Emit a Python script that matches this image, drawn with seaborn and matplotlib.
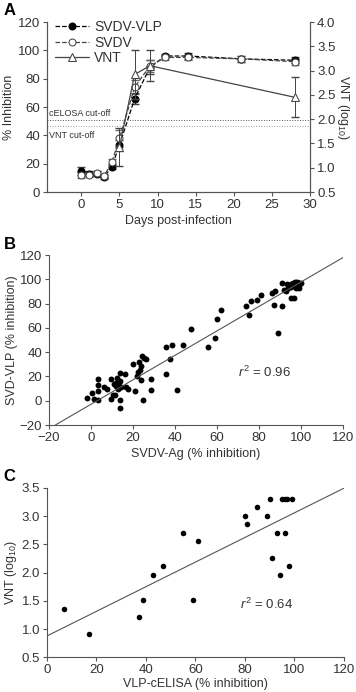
import numpy as np
import pandas as pd
import matplotlib
matplotlib.use("Agg")
import matplotlib.pyplot as plt
import seaborn as sns

# ---- Panel A: time course ----
days = [0, 1, 2, 3, 4, 5, 7, 9, 11, 14, 21, 28]
vlp = [15, 13, 13, 10.5, 18, 33, 66, 88, 96, 96, 94, 93]
vlp_err = [3, 2, 2, 1.5, 2, 4, 4, 5, 1.5, 2, 2, 2]
svdv = [12, 12, 13.5, 11.5, 21, 38, 74, 89, 95, 95, 94, 92]
svdv_err = [2, 1.5, 1.5, 1.5, 2, 6, 5, 4, 1.5, 2, 2, 2]
vnt_days = [5, 7, 9, 28]
vnt = [1.43, 2.92, 3.10, 2.45]
vnt_err = [0.39, 0.50, 0.32, 0.41]
celisa_cutoff = 50.5
vnt_cutoff = 1.85

# ---- Panel B: SVDV-Ag vs SVDV-VLP ----
b_x = [-1.8, 0.5, 1.5, 3.5, 3.5, 3.5, 3.5, 6, 7.5, 9.5, 9.5, 10.5, 11.5, 11.8, 12.3,
       12.6, 13, 13.4, 13.6, 13.6, 13.6, 14, 14.3, 11, 12, 16.3, 16.6, 17.8, 19.8, 21,
       21.8, 22.3, 22.7, 23.4, 23.6, 24, 24.4, 24.8, 25, 26, 28.6, 28.6, 35.5, 35.5,
       37.8, 38.5, 40.8, 43.8, 47.8, 55.8, 59, 59.8, 61.8, 74, 75, 76, 78.8, 81, 86,
       87.5, 87.2, 89, 91, 91, 92, 93, 93.5, 94, 95, 95, 95.2, 96, 96.8, 97, 97, 97.5,
       98, 98, 98.5, 99, 99, 99, 100]
b_y = [2, 6.5, 1.5, 17.5, 13, 8, 0.5, 11, 9.5, 18, 1.5, 5, 4.5, 15, 13,
       19, 10, 15.5, 23, 1, -6, 16.5, 11.5, 14, 12, 22, 11, 9.5, 30, 8,
       20.5, 23.5, 32, 25, 17, 29, 37, 0.2, 35.5, 34, 18, 9.2, 44, 22,
       34, 46, 9.2, 46, 59, 44, 52, 67, 75, 78, 71, 82, 83, 87, 89,
       90, 79, 56, 97, 78, 91, 90, 96, 93, 96, 94, 85, 97, 85, 95, 98, 93,
       96, 98, 97, 97, 95, 93, 97]
b_fit = (1.007, -2.9)  # slope, intercept

# ---- Panel C: VLP-cELISA vs VNT ----
c_x = [7, 17, 37, 39, 43, 47, 55, 59, 61, 80, 81, 85, 89, 90, 91, 93, 94, 95,
       96, 96, 97, 98, 99]
c_y = [1.35, 0.91, 1.21, 1.51, 1.96, 2.11, 2.71, 1.51, 2.56, 3.01, 2.86, 3.16,
       3.01, 3.31, 2.26, 2.71, 1.96, 3.31, 3.31, 2.71, 3.31, 2.11, 3.31]
c_fit = (0.0218, 0.88)

sns.set_theme(style="ticks")
plt.rcParams['font.family'] = ['Liberation Sans', 'DejaVu Sans']
plt.rcParams['mathtext.fontset'] = 'custom'
plt.rcParams['mathtext.it'] = 'Liberation Sans:italic'
plt.rcParams['mathtext.rm'] = 'Liberation Sans'

txt = '#333333'
spine = '#555555'
tfs = 9.5   # tick labels
lfs = 9     # axis labels

fig = plt.figure(figsize=(3.56, 6.92), dpi=100)


def style_axes(ax):
    for s in ax.spines.values():
        s.set_color(spine)
        s.set_linewidth(0.8)
    ax.tick_params(direction='out', length=3, width=0.8, color=spine,
                   labelsize=tfs, labelcolor=txt, pad=2)


# ---- A ----
ax = fig.add_axes([0.132, 0.7225, 0.739, 0.2457])
ax2 = ax.twinx()
style_axes(ax)
style_axes(ax2)
ax.spines['top'].set_visible(False)
ax2.spines['top'].set_visible(False)

dfa = pd.DataFrame({'day': days, 'vlp': vlp, 'svdv': svdv})
ax.errorbar(days, vlp, yerr=vlp_err, fmt='none', ecolor='#444444', elinewidth=0.7, capsize=3)
ax.errorbar(days, svdv, yerr=svdv_err, fmt='none', ecolor='#666666', elinewidth=0.7, capsize=3)
sns.lineplot(data=dfa, x='day', y='vlp', ax=ax, color='black', linestyle='--', lw=0.9,
             marker='o', markersize=5, markerfacecolor='black', markeredgecolor='black',
             label='SVDV-VLP', legend=False)
sns.lineplot(data=dfa, x='day', y='svdv', ax=ax, color='#444444', linestyle='--', lw=0.9,
             marker='o', markersize=5, markerfacecolor='white', markeredgecolor='#444444',
             label='SVDV', legend=False)

dfv = pd.DataFrame({'day': vnt_days, 'vnt': vnt})
ax2.errorbar(vnt_days, vnt, yerr=vnt_err, fmt='none', ecolor='#444444', elinewidth=0.7, capsize=3)
sns.lineplot(data=dfv, x='day', y='vnt', ax=ax2, color='#444444', lw=0.9,
             marker='^', markersize=5.5, markerfacecolor='white', markeredgecolor='#444444',
             label='VNT', legend=False)

ax.axhline(celisa_cutoff, color='#555555', lw=0.7, ls=':')
ax2.axhline(vnt_cutoff, color='#999999', lw=0.7, ls=':')
ax.text(-4.2, 55.5, 'cELOSA cut-off', fontsize=6.5, color=txt, va='center')
ax.text(-4.2, 40, 'VNT cut-off', fontsize=6.5, color=txt, va='center')

ax.set_xlim(-4.5, 30)
ax.set_ylim(0, 120)
ax2.set_ylim(0.5, 4.0)
ax.set_xticks(np.arange(0, 31, 5))
ax.set_yticks(np.arange(0, 121, 20))
ax2.set_yticks(np.arange(0.5, 4.01, 0.5))
ax2.set_yticklabels([f'{v:.1f}' for v in np.arange(0.5, 4.01, 0.5)])
ax.set_xlabel('Days post-infection', fontsize=lfs, color=txt, labelpad=3)
ax.set_ylabel('% Inhibition', fontsize=lfs, color=txt, labelpad=2)
ax2.set_ylabel('VNT (log$_{10}$)', fontsize=lfs, color=txt, rotation=270, labelpad=11)

h1, l1 = ax.get_legend_handles_labels()
h2, l2 = ax2.get_legend_handles_labels()
ax.legend(h1 + h2, l1 + l2, loc='upper left', bbox_to_anchor=(0.0, 1.06), frameon=False,
          fontsize=10, handlelength=2.4, handletextpad=0.4, labelspacing=0.1,
          borderaxespad=0.2, labelcolor=txt)

# ---- B ----
bx = fig.add_axes([0.1376, 0.3858, 0.826, 0.2457])
style_axes(bx)
sns.despine(ax=bx)
sns.scatterplot(x=b_x, y=b_y, ax=bx, color='black', s=18, edgecolor='black', linewidth=0)
bx.axline((0, b_fit[1]), slope=b_fit[0], color='#555555', lw=0.8)
bx.set_xlim(-20, 120)
bx.set_ylim(-20, 120)
bx.set_xticks(np.arange(-20, 121, 20))
bx.set_yticks(np.arange(-20, 121, 20))
bx.set_xlabel('SVDV-Ag (% inhibition)', fontsize=lfs, color=txt, labelpad=3)
bx.set_ylabel('SVD-VLP (% inhibition)', fontsize=lfs, color=txt, labelpad=1)
bx.text(70, 23, '$r^2$ = 0.96', fontsize=9.5, color=txt, va='center')

# ---- C ----
cx = fig.add_axes([0.132, 0.0500, 0.834, 0.2448])
style_axes(cx)
sns.despine(ax=cx)
sns.scatterplot(x=c_x, y=c_y, ax=cx, color='black', s=16, edgecolor='black', linewidth=0)
cx.axline((0, c_fit[1]), slope=c_fit[0], color='#555555', lw=0.8)
cx.set_xlim(0, 120)
cx.set_ylim(0.5, 3.5)
cx.set_xticks(np.arange(0, 121, 20))
cx.set_yticks(np.arange(0.5, 3.51, 0.5))
cx.set_yticklabels([f'{v:.1f}' for v in np.arange(0.5, 3.51, 0.5)])
cx.set_xlabel('VLP-cELISA (% inhibition)', fontsize=lfs, color=txt, labelpad=1)
cx.set_ylabel('VNT (log$_{10}$)', fontsize=lfs, color=txt, labelpad=2)
cx.text(78, 1.43, '$r^2$ = 0.64', fontsize=9.5, color=txt, va='center')

for lab, y in [('A', 0.996), ('B', 0.658), ('C', 0.322)]:
    fig.text(0.01, y, lab, fontsize=12, fontweight='bold', color='black', va='top')

fig.savefig('out.png', dpi=100)
